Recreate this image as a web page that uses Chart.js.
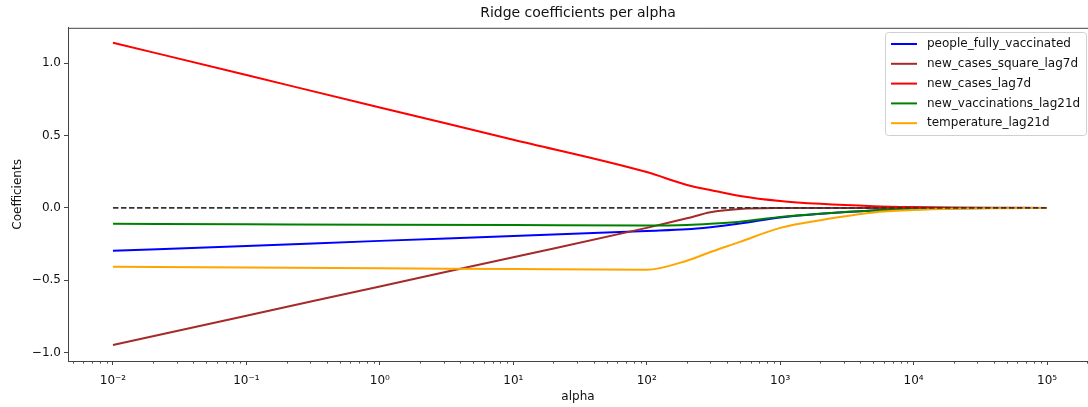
<!DOCTYPE html>
<html>
<head>
<meta charset="utf-8">
<script src="https://cdn.jsdelivr.net/npm/chart.js@4"></script>
<style>
  html, body { margin: 0; padding: 0; background: #fff; }
  #wrap { width: 1088px; height: 407px; }
</style>
</head>
<body>
<div id="wrap"><canvas id="ridge" width="1088" height="407"></canvas></div>
<script>
// alpha grid of the ridge path
const alphas = [0.01, 0.1, 1, 10, 100, 200, 300, 500, 1000, 2000, 5000, 10000, 20000, 50000, 100000];

// coefficient per alpha, one list per feature
const peopleFullyVaccinated = [-0.297, -0.263, -0.228, -0.194, -0.159, -0.148, -0.133, -0.108, -0.066, -0.041, -0.018, -0.008, -0.003, -0.001, 0];
const newCasesSquareLag7d   = [-0.948, -0.746, -0.543, -0.341, -0.138, -0.072, -0.030, -0.008, -0.001, 0, 0, 0, 0, 0, 0];
const newCasesLag7d         = [1.143, 0.919, 0.695, 0.472, 0.248, 0.159, 0.124, 0.083, 0.048, 0.028, 0.012, 0.006, 0.003, 0.001, 0];
const newVaccinationsLag21d = [-0.110, -0.113, -0.116, -0.119, -0.122, -0.118, -0.110, -0.095, -0.062, -0.040, -0.018, -0.008, -0.003, -0.001, 0];
const temperatureLag21d     = [-0.407, -0.412, -0.417, -0.423, -0.428, -0.365, -0.305, -0.235, -0.138, -0.085, -0.032, -0.015, -0.006, -0.002, 0];
const zeroLine              = [0, 0];
const zeroAlphas            = [0.01, 100000];

const xTicks = [1e-2, 1e-1, 1e0, 1e1, 1e2, 1e3, 1e4, 1e5];
const xTickLabels = ['10\u207B\u00B2', '10\u207B\u00B9', '10\u2070', '10\u00B9', '10\u00B2', '10\u00B3', '10\u2074', '10\u2075'];
const yTicks = [-1, -0.5, 0, 0.5, 1];

const FONT = "'DejaVu Sans', sans-serif";
const AXIS = '#444';

const pts = (xs, ys) => xs.map((x, i) => ({x: x, y: ys[i]}));
const series = (label, ys, color, order) => ({
    label: label,
    data: pts(alphas, ys),
    borderColor: color,
    backgroundColor: color,
    borderWidth: 2,
    pointRadius: 0,
    cubicInterpolationMode: 'monotone',
    order: order
});

// draws the top spine and the minor log ticks on x
const framePlugin = {
    id: 'frame',
    afterDatasetsDraw(chart) {
        const {ctx, chartArea: a, scales: {x}} = chart;
        ctx.save();
        ctx.strokeStyle = AXIS;
        ctx.lineWidth = 1;
        ctx.beginPath();
        ctx.moveTo(a.left, a.top + 0.5);
        ctx.lineTo(a.right, a.top + 0.5);
        ctx.stroke();
        ctx.beginPath();
        for (let k = -3; k <= 5; k++) {
            for (let m = 2; m <= 9; m++) {
                const v = m * Math.pow(10, k);
                if (v < x.min || v > x.max) continue;
                const px = Math.round(x.getPixelForValue(v)) + 0.5;
                ctx.moveTo(px, a.bottom);
                ctx.lineTo(px, a.bottom + 2.5);
            }
        }
        ctx.stroke();
        ctx.restore();
    }
};

// legend box in the upper right corner of the plot
const boxLegend = {
    id: 'boxLegend',
    afterDraw(chart) {
        const ctx = chart.ctx;
        const items = chart.data.datasets.filter(d => d.label);
        const left = 885, top = 32, w = 201, rowH = 19.8;
        const h = items.length * rowH + 4;
        ctx.save();
        ctx.fillStyle = 'rgba(255,255,255,0.85)';
        ctx.strokeStyle = '#d0d0d0';
        ctx.lineWidth = 1;
        ctx.beginPath();
        ctx.roundRect(left + 0.5, top + 0.5, w, h, 3);
        ctx.fill();
        ctx.stroke();
        ctx.font = '12px ' + FONT;
        ctx.textBaseline = 'middle';
        items.forEach((d, i) => {
            const y = top + 12 + i * rowH;
            ctx.strokeStyle = d.borderColor;
            ctx.lineWidth = 2;
            ctx.beginPath();
            ctx.moveTo(891, y);
            ctx.lineTo(917, y);
            ctx.stroke();
            ctx.fillStyle = '#111';
            ctx.fillText(d.label, 927, y);
        });
        ctx.restore();
    }
};

new Chart(document.getElementById('ridge'), {
    type: 'line',
    data: {
        datasets: [
            series('people_fully_vaccinated', peopleFullyVaccinated, '#0000ff', 5),
            series('new_cases_square_lag7d', newCasesSquareLag7d, '#a52a2a', 4),
            series('new_cases_lag7d', newCasesLag7d, '#ff0000', 3),
            series('new_vaccinations_lag21d', newVaccinationsLag21d, '#008000', 2),
            series('temperature_lag21d', temperatureLag21d, '#ffa500', 1),
            {
                data: pts(zeroAlphas, zeroLine),
                borderColor: '#333',
                borderWidth: 1.6,
                borderDash: [5.5, 2.5],
                pointRadius: 0,
                order: 0
            }
        ]
    },
    options: {
        responsive: false,
        animation: false,
        events: [],
        layout: {padding: 0},
        plugins: {
            legend: {display: false},
            tooltip: {enabled: false},
            title: {
                display: true,
                fullSize: false,
                text: 'Ridge coefficients per alpha',
                color: '#111',
                font: {family: FONT, size: 14, weight: 'normal'},
                padding: {top: 5, bottom: 6}
            }
        },
        scales: {
            x: {
                type: 'logarithmic',
                bounds: 'data',
                min: Math.pow(10, -2.337),
                max: Math.pow(10, 5.307),
                afterBuildTicks: s => { s.ticks = xTicks.map(v => ({value: v})); },
                afterFit: s => { s.height = 46; },
                grid: {drawOnChartArea: false, tickLength: 4, tickColor: AXIS},
                border: {color: AXIS},
                ticks: {
                    autoSkip: false,
                    maxRotation: 0,
                    padding: 9,
                    color: '#111',
                    font: {family: FONT, size: 12},
                    callback: (v) => xTickLabels[xTicks.indexOf(v)]
                },
                title: {
                    display: true,
                    text: 'alpha',
                    color: '#111',
                    font: {family: FONT, size: 12},
                    padding: {top: 0, bottom: 3}
                }
            },
            y: {
                min: -1.059,
                max: 1.246,
                afterBuildTicks: s => { s.ticks = yTicks.map(v => ({value: v})); },
                afterFit: s => { s.width = 68; },
                grid: {drawOnChartArea: false, tickLength: 4, tickColor: AXIS},
                border: {color: AXIS},
                ticks: {
                    padding: 3,
                    color: '#111',
                    font: {family: FONT, size: 12},
                    callback: (v) => v.toFixed(1).replace('-', '\u2212')
                },
                title: {
                    display: true,
                    text: 'Coefficients',
                    color: '#111',
                    font: {family: FONT, size: 12},
                    padding: {top: 11, bottom: 0}
                }
            }
        }
    },
    plugins: [framePlugin, boxLegend]
});
</script>
</body>
</html>
